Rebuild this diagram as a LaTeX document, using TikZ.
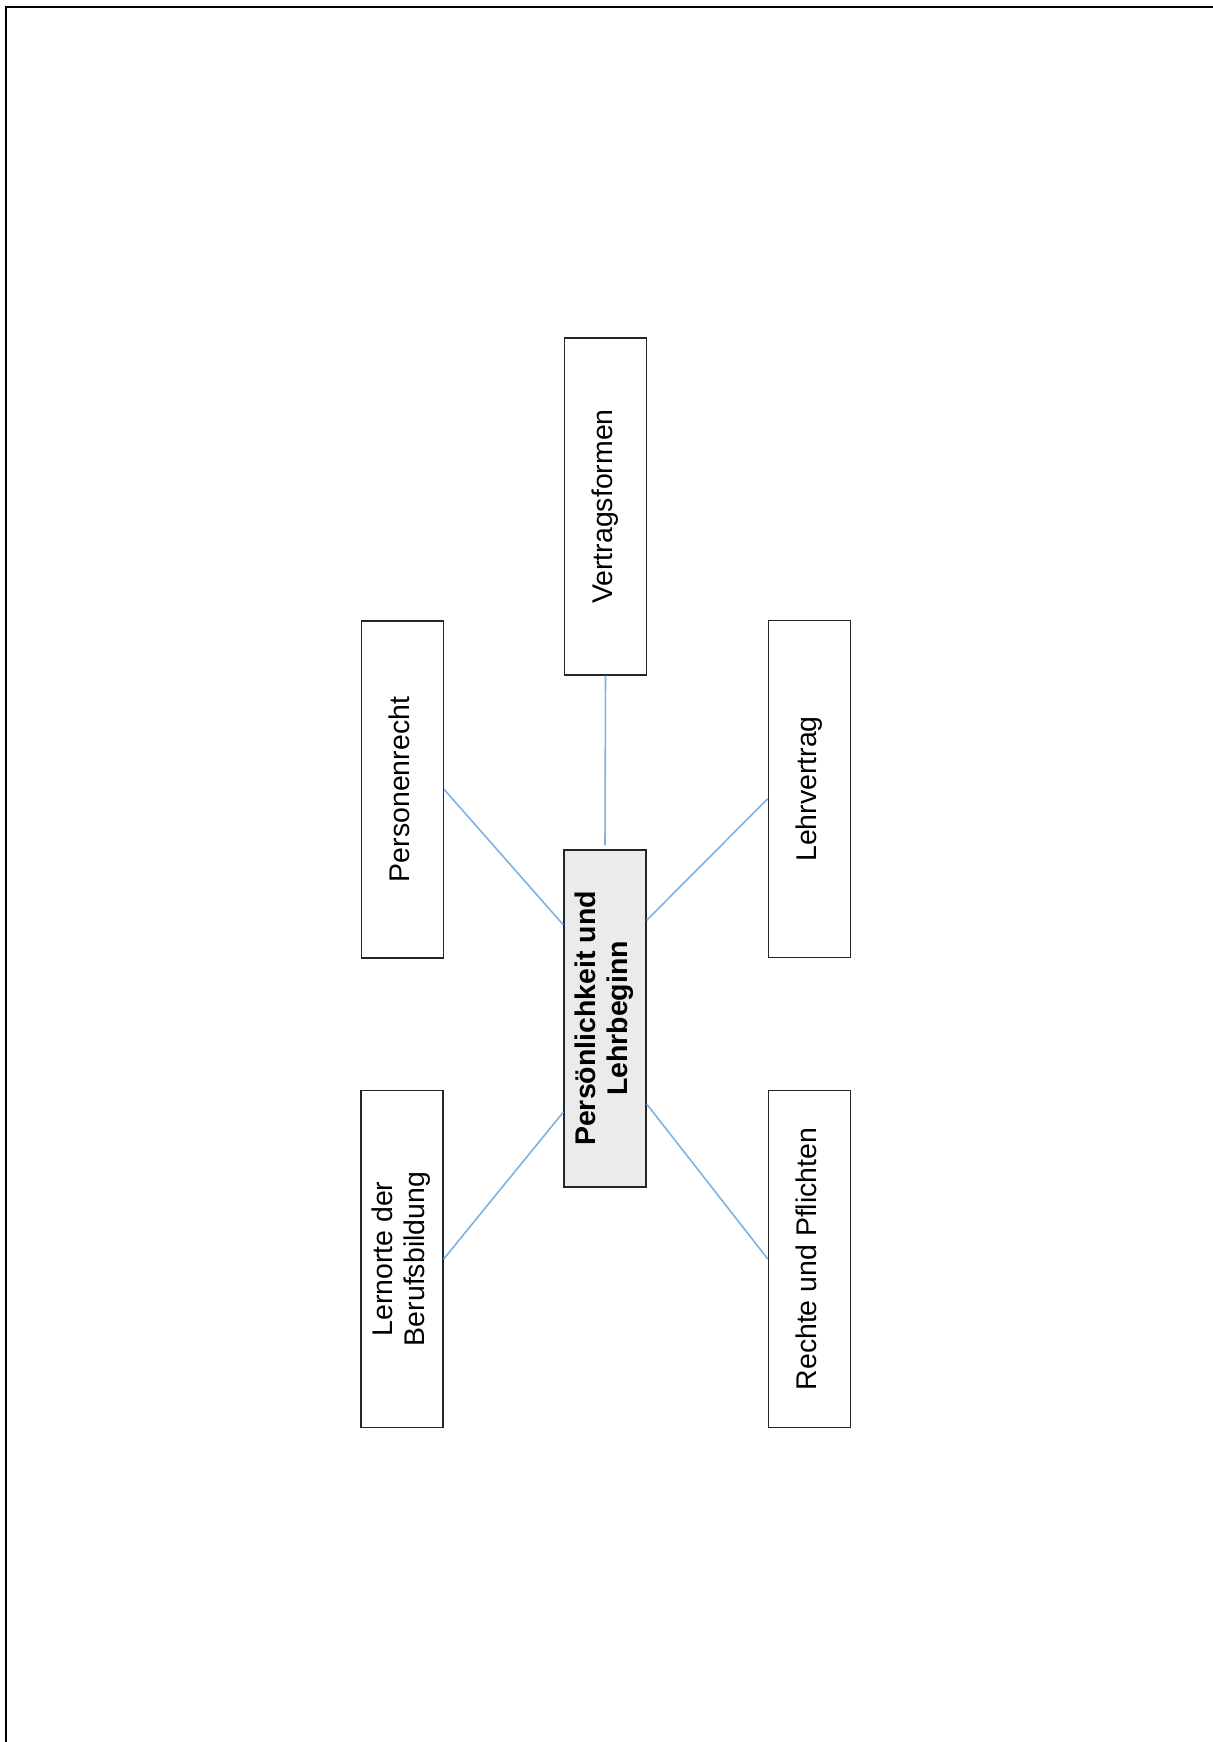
\documentclass[tikz,border=0pt]{standalone}
\usepackage{fontspec}
\setmainfont{Liberation Sans}
\definecolor{linkblue}{RGB}{125,177,228}
\definecolor{hubgray}{RGB}{235,235,235}
\tikzset{
  topic/.style={draw=black!85, line width=0.8pt, rectangle, inner sep=0pt,
    minimum width=1.64cm, minimum height=6.74cm,
    font=\fontsize{16.2}{18.6}\selectfont},
  hub/.style={topic, fill=hubgray, font=\fontsize{16.2}{18.6}\selectfont\bfseries},
  link/.style={draw=linkblue, line width=0.9pt}
}
\newcommand{\uptext}[1]{\rotatebox{90}{\begin{tabular}{@{}c@{}}#1\end{tabular}}}
\begin{document}
\begin{tikzpicture}[x=0.02cm, y=-0.02cm]
\useasboundingbox (0,0) rectangle (1213,1742);
\draw[line width=1.2pt] (6,1742) -- (6,7) -- (1213,7);

\node[hub] (hub) at (605,1018.5) {\uptext{Persönlichkeit und\\Lehrbeginn}};
\node[topic] (vertrag) at (605.5,506.5) {\uptext{Vertragsformen}};
\node[topic] (person) at (402.5,789.5) {\uptext{Personenrecht}};
\node[topic] (lehr) at (809.5,789) {\uptext{Lehrvertrag}};
\node[topic] (lernorte) at (402,1259) {\uptext{Lernorte der\\Berufsbildung}};
\node[topic] (rechte) at (809.5,1259) {\uptext{Rechte und Pflichten}};

\path[link] (vertrag.south) -- ([yshift=0.08cm]hub.north);
\path[link] (person.east) -- (hub.114);
\path[link] (lehr.193) -- (hub.67);
\path[link] (lernorte.east) -- (hub.246);
\path[link] (rechte.west) -- (hub.296);
\end{tikzpicture}
\end{document}
